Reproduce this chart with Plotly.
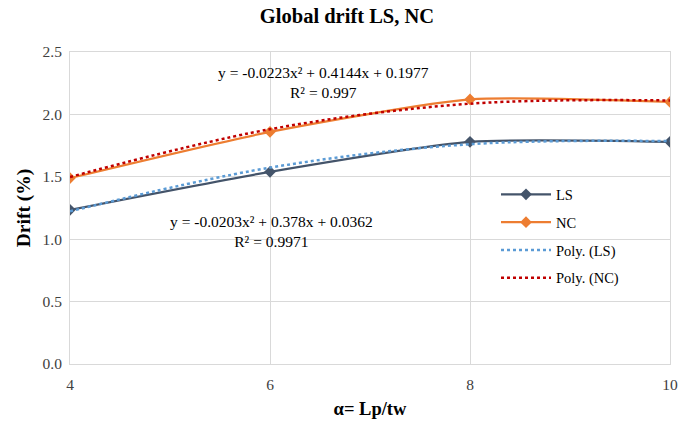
import numpy as np
import plotly.graph_objects as go

alpha = [4, 6, 8, 10]
ls_drift = [1.235, 1.54, 1.78, 1.78]
nc_drift = [1.49, 1.86, 2.12, 2.10]
# trendline coefficients as printed on the chart (a, b, c for a*x^2 + b*x + c)
ls_coef = [-0.0203, 0.378, 0.0362]
nc_coef = [-0.0223, 0.4144, 0.1977]
ls_eq = "y = -0.0203x² + 0.378x + 0.0362<br>R² = 0.9971"
nc_eq = "y = -0.0223x² + 0.4144x + 0.1977<br>R² = 0.997"
y_ticks = [0.0, 0.5, 1.0, 1.5, 2.0, 2.5]

ls_fit = np.polyval(ls_coef, alpha)
nc_fit = np.polyval(nc_coef, alpha)

FONT = "'Times New Roman', 'Liberation Serif', serif"
fig = go.Figure()
fig.add_trace(go.Scatter(x=alpha, y=ls_drift, name="LS", mode="lines+markers", legendgroup="a",
                         line=dict(color="#44546A", width=2.2, shape="spline", smoothing=0.6),
                         marker=dict(symbol="diamond", size=9, color="#44546A")))
fig.add_trace(go.Scatter(x=alpha, y=nc_drift, name="NC", mode="lines+markers", legendgroup="b",
                         line=dict(color="#ED7D31", width=2.2, shape="spline", smoothing=0.6),
                         marker=dict(symbol="diamond", size=9, color="#ED7D31")))
fig.add_trace(go.Scatter(x=alpha, y=ls_fit, name="Poly. (LS)", mode="lines", legendgroup="c",
                         line=dict(color="#5B9BD5", width=2.5, dash="dot", shape="spline", smoothing=1)))
fig.add_trace(go.Scatter(x=alpha, y=nc_fit, name="Poly. (NC)", mode="lines", legendgroup="d",
                         line=dict(color="#C00000", width=2.5, dash="dot", shape="spline", smoothing=1)))

fig.add_annotation(x=6.53, y=2.257, xref="x", yref="y", text=nc_eq, showarrow=False,
                   font=dict(family=FONT, size=15.5, color="#000"), align="center")
fig.add_annotation(x=6.01, y=1.059, xref="x", yref="y", text=ls_eq, showarrow=False,
                   font=dict(family=FONT, size=15.5, color="#000"), align="center")

fig.update_layout(
    width=694, height=425,
    margin=dict(l=70, r=24, t=52, b=61, autoexpand=False),
    paper_bgcolor="white", plot_bgcolor="white",
    title=dict(text="<b>Global drift LS, NC</b>", x=0.5, xanchor="center", y=0.962, yanchor="middle",
               font=dict(family=FONT, size=20.5, color="#000")),
    font=dict(family=FONT, size=15.5, color="#404040"),
    xaxis=dict(range=[4, 10], tickvals=alpha, showgrid=True, gridcolor="#D9D9D9", gridwidth=1,
               zeroline=False, showline=True, linecolor="#D9D9D9", mirror=True, automargin=False,
               ticks="outside", ticklen=6, tickcolor="rgba(0,0,0,0)",
               tickfont=dict(family=FONT, size=15.5, color="#404040"),
               title=dict(text="<b>α= Lp/tw</b>", font=dict(family=FONT, size=18.5, color="#000"), standoff=10)),
    yaxis=dict(range=[0, 2.5], tickvals=y_ticks, tickformat=".1f", showgrid=True, gridcolor="#D9D9D9",
               gridwidth=1, zeroline=False, showline=True, linecolor="#D9D9D9", mirror=True, automargin=False,
               ticks="outside", ticklen=4, tickcolor="rgba(0,0,0,0)",
               tickfont=dict(family=FONT, size=15.5, color="#404040"),
               title=dict(text="<b>Drift (%)</b>", font=dict(family=FONT, size=19.5, color="#000"), standoff=6)),
    legend=dict(x=0.71, y=0.595, xanchor="left", yanchor="top", bgcolor="rgba(0,0,0,0)",
                font=dict(family=FONT, size=14.5, color="#000"), tracegroupgap=6, itemwidth=50,
                traceorder="grouped"),
    showlegend=True,
)

fig.write_html("out.html")
